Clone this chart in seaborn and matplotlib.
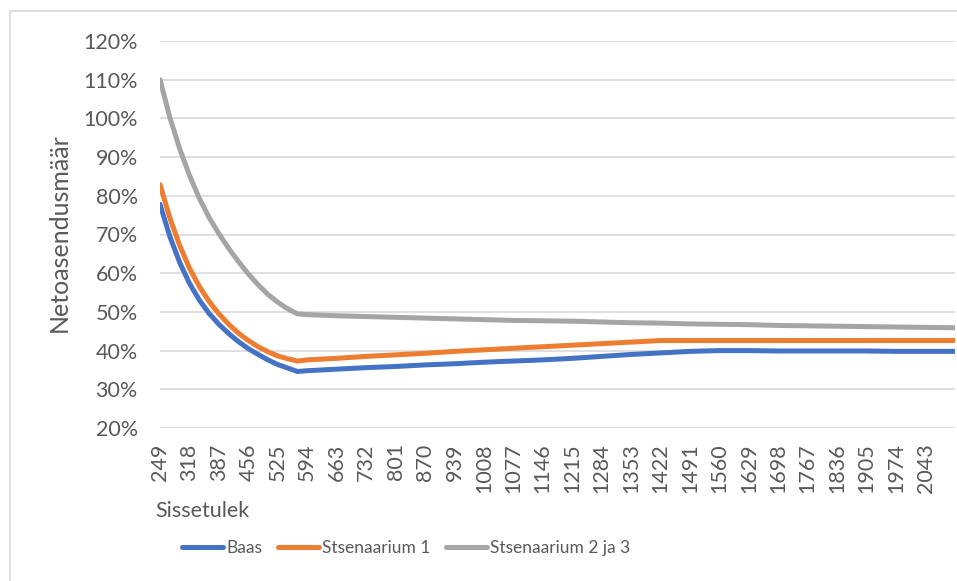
import seaborn as sns
import matplotlib.pyplot as plt
import matplotlib.patches as mpatches
from matplotlib.ticker import PercentFormatter
import pandas as pd

# sissetulek (income) - fine steps before the kink, then every 69
income = [249, 272, 295, 318, 341, 364, 387, 410, 433, 456, 479, 502, 525, 548, 571,
          594, 663, 732, 801, 870, 939, 1008, 1077, 1146, 1215, 1284, 1353, 1422,
          1491, 1560, 1629, 1698, 1767, 1836, 1905, 1974, 2043, 2112]

# netoasendusmäär (fractions)
baas = [0.778, 0.695, 0.628, 0.574, 0.531, 0.496, 0.468, 0.444, 0.423, 0.405, 0.390, 0.376, 0.364, 0.355, 0.346,
        0.348, 0.352, 0.356, 0.359, 0.363, 0.366, 0.370, 0.373, 0.376, 0.380, 0.385, 0.390, 0.394,
        0.398, 0.400, 0.400, 0.399, 0.399, 0.399, 0.399, 0.398, 0.398, 0.398]
stsen1 = [0.829, 0.743, 0.672, 0.613, 0.566, 0.527, 0.495, 0.468, 0.445, 0.426, 0.410, 0.397, 0.386, 0.379, 0.373,
          0.376, 0.380, 0.385, 0.389, 0.393, 0.398, 0.402, 0.406, 0.410, 0.414, 0.418, 0.422, 0.426,
          0.426, 0.426, 0.426, 0.426, 0.426, 0.426, 0.426, 0.426, 0.426, 0.426]
stsen23 = [1.100, 1.003, 0.922, 0.853, 0.794, 0.744, 0.702, 0.664, 0.630, 0.598, 0.570, 0.545, 0.525, 0.508, 0.495,
           0.493, 0.490, 0.488, 0.486, 0.484, 0.482, 0.480, 0.478, 0.477, 0.476, 0.474, 0.472, 0.471,
           0.469, 0.468, 0.467, 0.465, 0.464, 0.463, 0.462, 0.461, 0.460, 0.459]

series_names = ['Baas', 'Stsenaarium 1', 'Stsenaarium 2 ja 3']
tick_labels = [249, 318, 387, 456, 525, 594, 663, 732, 801, 870, 939, 1008, 1077, 1146, 1215,
               1284, 1353, 1422, 1491, 1560, 1629, 1698, 1767, 1836, 1905, 1974, 2043]

df = pd.DataFrame({'Sissetulek': income * 3,
                   'Value': baas + stsen1 + stsen23,
                   'Series': [series_names[0]] * len(income) + [series_names[1]] * len(income)
                             + [series_names[2]] * len(income)})

sns.set_style('white')
plt.rcParams['font.family'] = ['Lato', 'DejaVu Sans']
txt = '#595959'

fig = plt.figure(figsize=(9.57, 5.81), dpi=100)
ax = fig.add_axes([160 / 957, 1 - 428 / 581, 795 / 957, 387 / 581])

palette = {'Baas': '#4472C4', 'Stsenaarium 1': '#ED7D31', 'Stsenaarium 2 ja 3': '#A5A5A5'}
sns.lineplot(data=df, x='Sissetulek', y='Value', hue='Series', palette=palette,
             linewidth=3.6, ax=ax, legend=False, solid_capstyle='round')

ax.set_xlim(249, 2112)
ax.set_ylim(0.2, 1.2)
ax.set_yticks([i / 10 for i in range(2, 13)])
ax.yaxis.set_major_formatter(PercentFormatter(1.0, decimals=0))
ax.set_xticks(tick_labels)
ax.set_xticklabels([str(t) for t in tick_labels], rotation=90)
ax.grid(axis='y', color='#d9d9d9', linewidth=1.2)
ax.set_axisbelow(True)
for s in ax.spines.values():
    s.set_visible(False)
ax.tick_params(axis='both', length=0, labelsize=15.5, colors=txt)
ax.tick_params(axis='y', pad=16)
ax.tick_params(axis='x', pad=11)
ax.set_xlabel('')
ax.set_ylabel('')

fig.text(155 / 957, 1 - 511 / 581, 'Sissetulek', fontsize=15.5, color=txt, ha='left', va='center')
fig.text(59 / 957, 1 - 233 / 581, 'Netoasendusmäär', fontsize=18, color=txt, rotation=90,
         ha='center', va='center')

handles = [plt.Line2D([], [], color=palette[n], linewidth=3.6, solid_capstyle='round') for n in series_names]
fig.legend(handles, series_names, loc='center', bbox_to_anchor=(406 / 957, 1 - 548 / 581), ncol=3,
           frameon=False, fontsize=12.5, labelcolor=txt, handlelength=2.4, handletextpad=0.15,
           columnspacing=0.9)

# chart area border
fig.patches.append(mpatches.Rectangle((10 / 957, -0.05), 1.1, 1 - 11 / 581 + 0.05,
                                      transform=fig.transFigure, fill=False,
                                      edgecolor='#d9d9d9', linewidth=1.2))

plt.savefig('out.png', dpi=100)
